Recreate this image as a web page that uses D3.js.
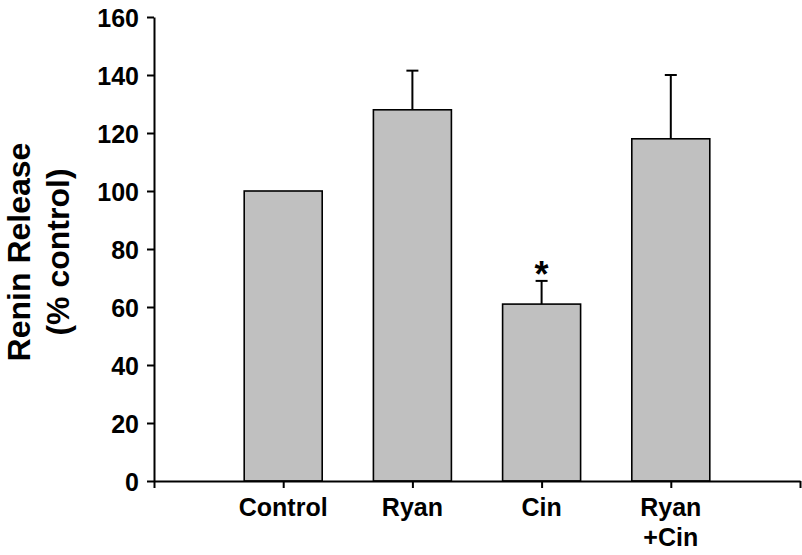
<!DOCTYPE html>
<html>
<head>
<meta charset="utf-8">
<script src="https://cdn.jsdelivr.net/npm/d3@7"></script>
<style>
  body { margin: 0; background: #fff; }
  text { font-family: "Liberation Sans", Arial, sans-serif; font-weight: bold; fill: #000; }
</style>
</head>
<body>
<script>
var categories = ["Control", "Ryan", "Cin", "Ryan\n+Cin"];
var values     = [100, 128, 61, 118];
var errors     = [0, 13.5, 8, 22];
var marks      = ["", "", "*", ""];
var yTicks     = [0, 20, 40, 60, 80, 100, 120, 140, 160];

var width = 802, height = 555;

var svg = d3.select("body")
    .append("svg")
    .attr("width", width)
    .attr("height", height);

// slots 0..5 along the x axis, bars sit on slots 1..4
var x = d3.scaleLinear()
    .domain([0, categories.length + 1])
    .range([154, 800]);

var y = d3.scaleLinear()
    .domain([0, 160])
    .range([481, 17]);

var barWidth = 78;

// ---------------------------------------------------------------- //
//                              AXES                                //
// ---------------------------------------------------------------- //

var yAxis = svg.append("g")
    .attr("transform", "translate(" + x(0) + ",0)")
    .call(d3.axisLeft(y).tickValues(yTicks).tickSize(7).tickSizeOuter(0).tickPadding(8));

yAxis.select(".domain").attr("stroke-width", 2);
yAxis.selectAll(".tick line").attr("stroke-width", 2);
yAxis.selectAll(".tick text")
    .style("font-size", "25px")
    .attr("font-family", null)
    .attr("fill", null)
    .attr("dy", "0.36em");

// ---------------------------------------------------------------- //
//                              BARS                                //
// ---------------------------------------------------------------- //

var bars = svg.selectAll(".bar")
    .data(values)
    .enter()
    .append("g")
    .attr("class", "bar");

bars.append("line")
    .attr("x1", function(d, i) { return x(i + 1); })
    .attr("x2", function(d, i) { return x(i + 1); })
    .attr("y1", function(d) { return y(d); })
    .attr("y2", function(d, i) { return y(d + errors[i]); })
    .attr("stroke", "#000")
    .attr("stroke-width", 2)
    .style("display", function(d, i) { return errors[i] > 0 ? null : "none"; });

bars.append("line")
    .attr("x1", function(d, i) { return x(i + 1) - 6; })
    .attr("x2", function(d, i) { return x(i + 1) + 6; })
    .attr("y1", function(d, i) { return y(d + errors[i]); })
    .attr("y2", function(d, i) { return y(d + errors[i]); })
    .attr("stroke", "#000")
    .attr("stroke-width", 2)
    .style("display", function(d, i) { return errors[i] > 0 ? null : "none"; });

bars.append("rect")
    .attr("x", function(d, i) { return x(i + 1) - barWidth / 2; })
    .attr("y", function(d) { return y(d); })
    .attr("width", barWidth)
    .attr("height", function(d) { return y(0) - y(d); })
    .attr("fill", "#c0c0c0")
    .attr("stroke", "#000")
    .attr("stroke-width", 1.6);

bars.append("text")
    .attr("x", function(d, i) { return x(i + 1); })
    .attr("y", function(d, i) { return y(d + errors[i]) + 6; })
    .style("font-size", "36px")
    .style("text-anchor", "middle")
    .text(function(d, i) { return marks[i]; });

// x axis drawn after bars so it lies on top of the bar bottoms
var xAxis = svg.append("g")
    .attr("transform", "translate(0," + y(0) + ")")
    .call(d3.axisBottom(x).tickValues(d3.range(0, categories.length + 2))
        .tickFormat("").tickSize(7).tickSizeOuter(0));

xAxis.select(".domain").attr("stroke-width", 2);
xAxis.selectAll(".tick line").attr("stroke-width", 2);

// category labels (multi line)
var catLabels = svg.selectAll(".cat")
    .data(categories)
    .enter()
    .append("text")
    .attr("class", "cat")
    .attr("x", function(d, i) { return x(i + 1); })
    .attr("y", 516)
    .style("font-size", "25px")
    .style("text-anchor", "middle");

catLabels.selectAll("tspan")
    .data(function(d) { return d.split("\n"); })
    .enter()
    .append("tspan")
    .attr("x", function() { return d3.select(this.parentNode).attr("x"); })
    .attr("dy", function(d, j) { return j === 0 ? 0 : 30; })
    .text(function(d) { return d; });

// ---------------------------------------------------------------- //
//                             Y TITLE                              //
// ---------------------------------------------------------------- //

var yTitle = ["Renin Release", "(% control)"];

svg.selectAll(".ytitle")
    .data(yTitle)
    .enter()
    .append("text")
    .attr("class", "ytitle")
    .attr("transform", function(d, i) { return "translate(" + (30 + i * 39) + ",252) rotate(-90)"; })
    .style("font-size", "32px")
    .style("text-anchor", "middle")
    .text(function(d) { return d; });
</script>
</body>
</html>
